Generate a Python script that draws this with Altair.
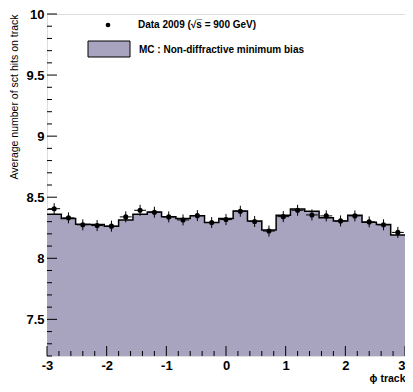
import altair as alt
import pandas as pd
import numpy as np

# ---- data ----
bin_edges = [round(-3 + 0.24 * i, 2) for i in range(26)]
bin_centers = [round(-3 + 0.24 * (i + 0.5), 2) for i in range(25)]

mc_values = [8.360, 8.325, 8.279, 8.276, 8.263, 8.314, 8.360, 8.379, 8.341, 8.325,
             8.349, 8.293, 8.325, 8.387, 8.306, 8.231, 8.352, 8.404, 8.385, 8.331,
             8.306, 8.352, 8.296, 8.276, 8.190]

data_values = [8.406, 8.331, 8.274, 8.268, 8.263, 8.339, 8.393, 8.377, 8.339, 8.314,
               8.349, 8.293, 8.317, 8.385, 8.301, 8.223, 8.341, 8.393, 8.355, 8.347,
               8.306, 8.347, 8.298, 8.274, 8.212]

data_errors = [0.045] * 25
x_err = 0.1

x_tick_labels = [-3, -2, -1, 0, 1, 2, 3]
y_tick_labels = [7.5, 8, 8.5, 9, 9.5, 10]
x_minor = [round(-3 + 0.2 * i, 1) for i in range(31) if abs((-3 + 0.2 * i) - round(-3 + 0.2 * i)) > 1e-6]
y_minor = [round(7.2 + 0.1 * i, 1) for i in range(29)]
y_minor = [v for v in y_minor if abs(v * 2 - round(v * 2)) > 1e-6]

W, H = 358, 342
FONT = "Liberation Sans"
FILL = "#a8a4c0"

mc_df = pd.DataFrame({"x": bin_edges, "y": mc_values + [mc_values[-1]]})
dat_df = pd.DataFrame({
    "x": bin_centers,
    "y": data_values,
    "lo": [v - e for v, e in zip(data_values, data_errors)],
    "hi": [v + e for v, e in zip(data_values, data_errors)],
    "xl": [c - x_err for c in bin_centers],
    "xh": [c + x_err for c in bin_centers],
})

xs = alt.Scale(domain=[-3, 3], nice=False, zero=False)
ys = alt.Scale(domain=[7.2, 10], nice=False, zero=False)

xaxis = alt.Axis(values=x_tick_labels, labelExpr="'' + datum.value", ticks=False, tickSize=0,
                 domain=False, grid=False, labelFont=FONT, labelFontWeight="bold",
                 labelFontSize=13, labelColor="black", labelPadding=3,
                 labelAlign={"condition": {"test": "datum.value == 3", "value": "right"}, "value": "center"},
                 title="ϕ track", titleFont=FONT, titleFontWeight="bold", titleFontSize=10.5,
                 titleColor="black", titleX=W, titleY=22, titleAlign="right",
                 titleBaseline="middle", labelFlush=False)
yaxis = alt.Axis(values=y_tick_labels, labelExpr="'' + datum.value", ticks=False, tickSize=0,
                 domain=False, grid=False, labelFont=FONT, labelFontWeight="bold",
                 labelFontSize=13, labelColor="black", labelPadding=3,
                 title="Average number of sct hits on track", titleFont=FONT,
                 titleFontWeight="normal", titleFontSize=10.5, titleColor="black",
                 titleX=-33, titleY=0, titleAngle=270, titleAlign="right",
                 titleBaseline="middle", labelFlush=False)

area = alt.Chart(mc_df).mark_area(interpolate="step-after", color=FILL, opacity=1).encode(
    x=alt.X("x:Q", scale=xs, axis=xaxis),
    y=alt.Y("y:Q", scale=ys, axis=yaxis),
    y2=alt.datum(7.2),
)
step = alt.Chart(mc_df).mark_line(interpolate="step-after", color="black", strokeWidth=1.5).encode(
    x=alt.X("x:Q", scale=xs), y=alt.Y("y:Q", scale=ys)
)

base_d = alt.Chart(dat_df)
verr = base_d.mark_rule(color="black", strokeWidth=1).encode(
    x=alt.X("x:Q", scale=xs), y=alt.Y("lo:Q", scale=ys), y2="hi:Q")
herr = base_d.mark_rule(color="black", strokeWidth=1).encode(
    x=alt.X("xl:Q", scale=xs), x2="xh:Q", y=alt.Y("y:Q", scale=ys))
pts = base_d.mark_point(filled=True, color="black", opacity=1, size=26, shape="circle").encode(
    x=alt.X("x:Q", scale=xs), y=alt.Y("y:Q", scale=ys))

# inward ticks
ymaj = alt.Chart(pd.DataFrame({"t": y_tick_labels})).mark_rule(color="black").encode(
    y=alt.Y("t:Q", scale=ys), x=alt.value(0), x2=alt.value(10))
ymin = alt.Chart(pd.DataFrame({"t": y_minor})).mark_rule(color="black").encode(
    y=alt.Y("t:Q", scale=ys), x=alt.value(0), x2=alt.value(5))
xmaj = alt.Chart(pd.DataFrame({"t": x_tick_labels})).mark_rule(color="black").encode(
    x=alt.X("t:Q", scale=xs), y=alt.value(H), y2=alt.value(H - 10))
xmin = alt.Chart(pd.DataFrame({"t": x_minor})).mark_rule(color="black").encode(
    x=alt.X("t:Q", scale=xs), y=alt.value(H), y2=alt.value(H - 5))

# legend
one = pd.DataFrame({"a": [0]})
leg_pt = alt.Chart(one).mark_point(filled=True, color="black", opacity=1, size=22, shape="circle").encode(
    x=alt.value(61), y=alt.value(11))
leg_t1 = alt.Chart(one).mark_text(align="left", baseline="middle", font=FONT, fontWeight="bold",
                                  fontSize=10, color="black", text="Data 2009 (√s̅ = 900 GeV)").encode(
    x=alt.value(91), y=alt.value(11))
leg_box = alt.Chart(one).mark_rect(fill=FILL, stroke="black", strokeWidth=1).encode(
    x=alt.value(41), x2=alt.value(83), y=alt.value(27), y2=alt.value(43))
leg_t2 = alt.Chart(one).mark_text(align="left", baseline="middle", font=FONT, fontWeight="bold",
                                  fontSize=10, color="black", text="MC : Non-diffractive minimum bias").encode(
    x=alt.value(92), y=alt.value(35.5))

chart = alt.layer(area, step, verr, herr, pts, ymaj, ymin, xmaj, xmin,
                  leg_pt, leg_t1, leg_box, leg_t2).properties(
    width=W, height=H,
    autosize=alt.AutoSizeParams(type="none"),
    padding={"left": 39, "top": 6, "right": 0, "bottom": 28},
).configure_view(stroke="black", strokeWidth=1).configure(background="white")

chart.save("out.html", embed_options={"renderer": "svg", "actions": False})
